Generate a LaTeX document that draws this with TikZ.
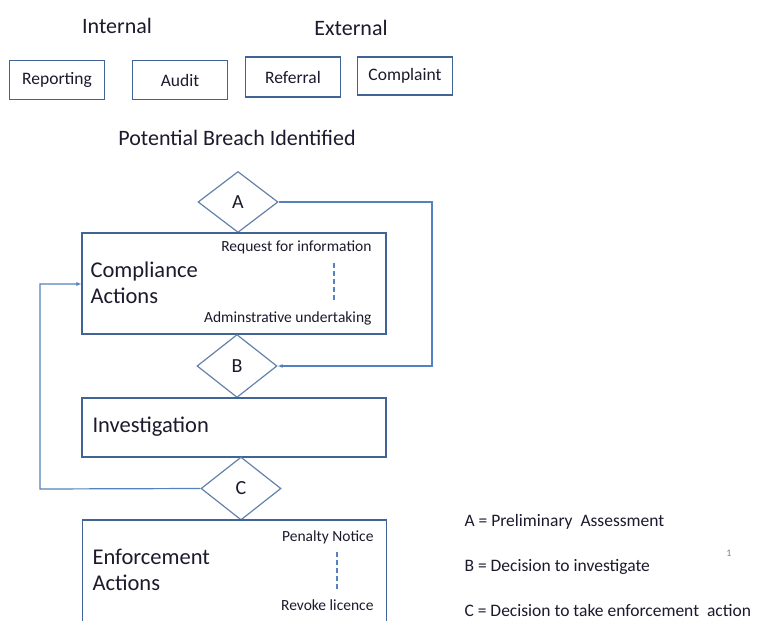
\documentclass[tikz,border=0pt]{standalone}
\usepackage{fontspec}
\setmainfont{Carlito}
\usetikzlibrary{shapes.geometric,arrows.meta}

\definecolor{boxline}{RGB}{65,100,150}
\definecolor{diamline}{RGB}{100,130,170}
\definecolor{flowline}{RGB}{85,130,190}
\definecolor{txt}{RGB}{30,25,45}

\tikzset{
  srcbox/.style={draw=boxline,line width=1.4pt,minimum width=95pt,minimum height=39pt,
    inner sep=0pt,font=\fontsize{17.5}{20}\selectfont,text=txt},
  stagebox/.style={draw=boxline,line width=1.1pt,minimum width=304pt,inner sep=0pt},
  decision/.style={diamond,draw=diamline,line width=1.2pt,minimum width=80pt,
    minimum height=61pt,inner sep=0pt,font=\fontsize{20}{22}\selectfont,text=txt},
  head/.style={font=\fontsize{22}{24}\selectfont,text=txt},
  big/.style={font=\fontsize{22.5}{26}\selectfont,text=txt,align=left,anchor=west},
  small/.style={font=\fontsize{15.5}{17}\selectfont,text=txt,anchor=east},
  legend/.style={font=\fontsize{17.5}{19}\selectfont,text=txt,anchor=west},
  loop/.style={draw=flowline,line width=1.2pt},
  sep/.style={draw=flowline,line width=1.1pt,dash pattern=on 5pt off 3pt}
}

\begin{document}
\begin{tikzpicture}[x=1pt,y=-1pt]
  \clip (0,0) rectangle (764,621);
  \fill[white] (0,0) rectangle (764,621);

  % sources
  \node[head] (int) at (117,26) {Internal};
  \node[head] (ext) at (351,28) {External};
  \node[srcbox] (rep) at (57,80) {Reporting};
  \node[srcbox] (aud) at (180,80) {Audit};
  \node[srcbox,minimum height=40pt] (ref) at (293,77) {Referral};
  \node[srcbox,minimum height=38pt] (comp) at (405,76) {Complaint};
  \node[head] (pbi) at (237,138) {Potential Breach Identified};

  % decisions and stages
  \node[decision] (A) at (238,202) {A};
  \node[stagebox,minimum height=101pt] (ca) at (234,283.5) {};
  \node[decision,minimum height=63pt] (B) at (237,366) {B};
  \node[stagebox,minimum height=59pt] (inv) at (234,427.5) {};
  \node[decision,minimum height=63pt] (C) at (241,488.5) {C};
  \node[stagebox,minimum height=140pt] (ea) at (234.5,590) {};

  % texts inside the stages
  \node[big] (catext) at (87,283) {Compliance\\Actions};
  \node[small] (rfi) at (375,247) {Request for information};
  \node[small] (adm) at (375,318) {Adminstrative undertaking};
  \draw[sep] (334,263) -- (334,300);
  \node[big] (invtext) at (89,427) {Investigation};
  \node[big] (eatext) at (89,570) {Enforcement\\Actions};
  \node[small] (pen) at (377,537) {Penalty Notice};
  \node[small] (rev) at (377,605) {Revoke licence};
  \draw[sep] (337,552) -- (337,591);

  % loops
  \coordinate (ra) at (432,202);
  \coordinate (lc) at (40,489);
  \draw[loop,-{Latex[length=5pt,width=4pt]}] (A.east) -- (ra) |- (B.east);
  \draw[loop,-{Latex[length=5pt,width=4pt]}] (C.west) -- (lc) |- (ca.west |- 0,284);

  % legend
  \node[legend] (la) at (461,522) {A = Preliminary\ \ Assessment};
  \node[legend] (lb) at (461,567) {B = Decision to investigate};
  \node[legend] (lcc) at (461,610) {C = Decision to take enforcement\ \ action};
  \node[font=\fontsize{10}{11}\selectfont,text=gray] (pg) at (729,553) {1};
\end{tikzpicture}
\end{document}
